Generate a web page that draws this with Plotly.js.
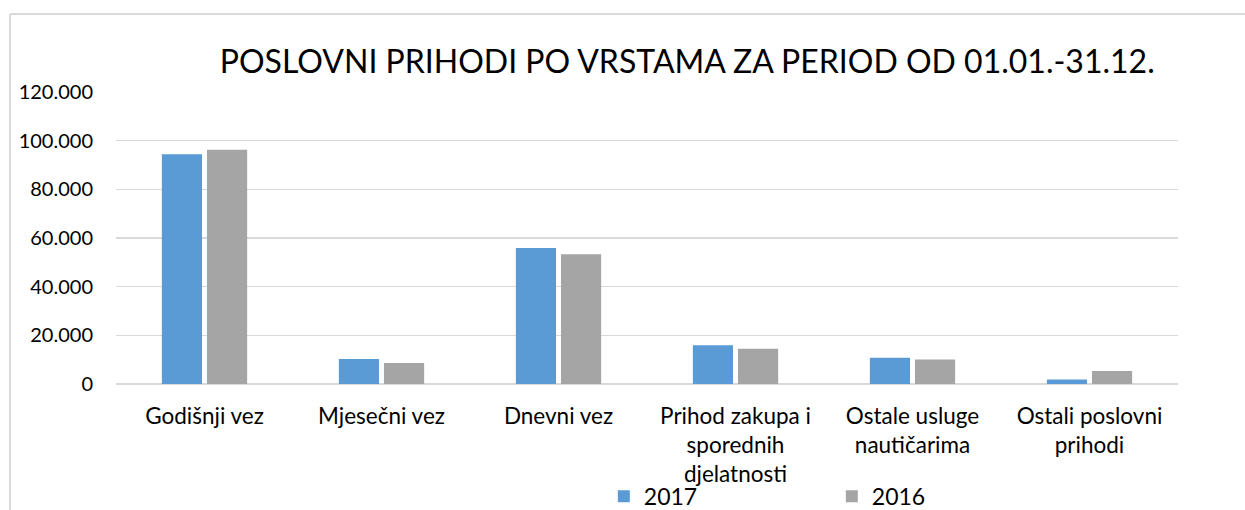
<!DOCTYPE html>
<html>
<head>
<meta charset="utf-8">
<script src="https://cdn.plot.ly/plotly-3.0.1.min.js"></script>
<style>html,body{margin:0;padding:0;background:#fff;}#chart{width:1245px;height:510px;}</style>
</head>
<body>
<div id="chart"></div>
<script>
const categories = ["Godišnji vez", "Mjesečni vez", "Dnevni vez", "Prihod zakupa i<br>sporednih<br>djelatnosti", "Ostale usluge<br>nautičarima", "Ostali poslovni<br>prihodi"];
const values2017 = [94400, 10300, 55900, 15900, 10800, 1900];
const values2016 = [96300, 8600, 53300, 14500, 10100, 5300];
const seriesNames = ["2017", "2016"];
const yTicks = [0, 20000, 40000, 60000, 80000, 100000, 120000];

const FONT = "Lato, 'Open Sans', sans-serif";
const data = [
  {type: "bar", name: seriesNames[0], x: categories, y: values2017, marker: {color: "#5B9BD5"}, hoverinfo: "y"},
  {type: "bar", name: seriesNames[1], x: categories, y: values2016, marker: {color: "#A5A5A5"}, hoverinfo: "y"}
];
const layout = {
  width: 1245, height: 510,
  margin: {l: 116, r: 67, t: 92, b: 126},
  paper_bgcolor: "#ffffff", plot_bgcolor: "#ffffff",
  separators: ",.",
  font: {family: FONT, size: 20, color: "#000000"},
  title: {text: "POSLOVNI PRIHODI PO VRSTAMA ZA PERIOD OD 01.01.-31.12.", x: 0.552, xref: "container", xanchor: "center", y: 0.878, yref: "container", yanchor: "middle", font: {family: FONT, size: 32, color: "#000"}},
  barmode: "group", bargap: 0.49, bargroupgap: 0.11,
  xaxis: {type: "category", automargin: false, showgrid: false, showline: false, zeroline: false, ticks: "", tickfont: {family: FONT, size: 22.5}, ticklabelstandoff: 16, fixedrange: true},
  yaxis: {automargin: false, range: [0, 120000], tickvals: yTicks, tickformat: ",d", showgrid: true, gridcolor: "#d9d9d9", gridwidth: 1.5, zeroline: true, zerolinecolor: "#d9d9d9", zerolinewidth: 2, showline: false, ticks: "", tickfont: {family: FONT, size: 20}, ticklabelstandoff: 22, fixedrange: true},
  legend: {orientation: "h", xref: "container", x: 0.485, xanchor: "left", yref: "container", y: 0.027, yanchor: "middle", font: {family: FONT, size: 23}, entrywidth: 183, entrywidthmode: "pixels", itemwidth: 30, bgcolor: "rgba(0,0,0,0)"},
  shapes: [
    {type: "line", xref: "paper", yref: "paper", x0: -0.0998, x1: -0.0998, y0: 1.267, y1: -0.5, line: {color: "#d9d9d9", width: 2}},
    {type: "line", xref: "paper", yref: "paper", x0: -0.0998, x1: 1.2, y0: 1.267, y1: 1.267, line: {color: "#d9d9d9", width: 2}}
  ],
  showlegend: true
};
Plotly.newPlot("chart", data, layout, {displayModeBar: false, staticPlot: true});
</script>
</body>
</html>
